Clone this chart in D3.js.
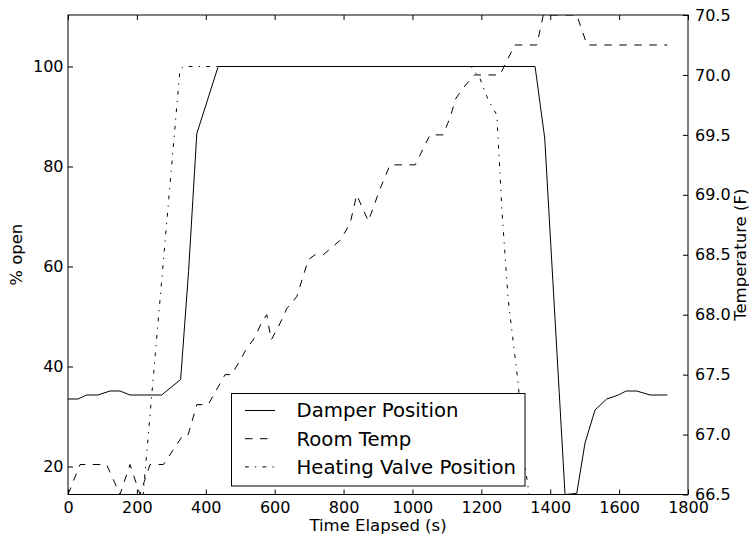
<!DOCTYPE html>
<html>
<head>
<meta charset="utf-8">
<script src="https://cdn.jsdelivr.net/npm/d3@7"></script>
<style>
  body { margin: 0; background: #fff; }
  svg { display: block; font-family: 'DejaVu Sans', sans-serif; }
</style>
</head>
<body>
<div id="chart"></div>
<script>
// values: [time (s), value]
const damperPos = [
  [0, 33.5], [29, 33.5], [54, 34.3], [87, 34.3], [122, 35.1], [151, 35.1],
  [180, 34.3], [272, 34.3], [327, 37.4], [350, 59], [374, 86.6], [436, 100],
  [1356, 100], [1384, 85.7], [1443, 14.4], [1477, 14.6], [1501, 24.7],
  [1530, 31.3], [1564, 33.5], [1598, 34.3], [1620, 35.1], [1651, 35.1],
  [1690, 34.3], [1740, 34.3]
];
const roomTemp = [
  [0, 66.5], [35, 66.75], [112, 66.75], [151, 66.5], [180, 66.75], [209, 66.5],
  [238, 66.75], [277, 66.75], [335, 67.0], [349, 67.0], [374, 67.25], [407, 67.25],
  [456, 67.5], [475, 67.5], [500, 67.62], [515, 67.7], [540, 67.8], [565, 67.95],
  [577, 68.0], [590, 67.79], [611, 67.9], [635, 68.05], [664, 68.15], [698, 68.46],
  [717, 68.5], [741, 68.5], [790, 68.62], [819, 68.76], [838, 69.0], [872, 68.78],
  [906, 69.05], [935, 69.25], [1008, 69.25], [1051, 69.5], [1089, 69.5],
  [1110, 69.65], [1125, 69.8], [1150, 69.9], [1180, 70.0], [1254, 70.0],
  [1297, 70.25], [1361, 70.25], [1380, 70.5], [1477, 70.5], [1507, 70.25],
  [1740, 70.25]
];
const valvePos = [
  [0, 0], [200, 0], [325, 99.3], [335, 100], [1170, 100], [1196, 97.6],
  [1220, 93.3], [1245, 90.3], [1260, 71], [1278, 53.3], [1307, 36.6],
  [1327, 20], [1337, 15.3], [1360, 0], [1740, 0]
];

const timeTicks = [0, 200, 400, 600, 800, 1000, 1200, 1400, 1600, 1800];
const pctTicks = [20, 40, 60, 80, 100];
const tempTicks = [66.5, 67.0, 67.5, 68.0, 68.5, 69.0, 69.5, 70.0, 70.5];

const seriesNames = ['Damper Position', 'Room Temp', 'Heating Valve Position'];

const W = 749, H = 537;
const plotL = 68, plotR = 688, plotT = 15, plotB = 494.5;

const svg = d3.select('#chart').append('svg')
  .attr('width', W)
  .attr('height', H);

let x = d3.scaleLinear().domain([0, 1800]).range([plotL, plotR]);
let yPct = d3.scaleLinear().domain([14.4, 110.3]).range([plotB, plotT]);
let yTemp = d3.scaleLinear().domain([66.5, 70.5]).range([plotB, plotT]);

svg.append('clipPath').attr('id', 'plot')
  .append('rect')
  .attr('x', plotL).attr('y', plotT)
  .attr('width', plotR - plotL).attr('height', plotB - plotT);

const dashed = '7.5,7.5';
const dashDot = '3.75,6.25,1.25,6.25';

let lineFor = (yScale) => d3.line()
  .x(d => x(d[0]))
  .y(d => yScale(d[1]));

let plot = svg.append('g').attr('clip-path', 'url(#plot)');

plot.append('path')
  .attr('d', lineFor(yPct)(damperPos))
  .attr('fill', 'none').attr('stroke', '#000').attr('stroke-width', 1);

plot.append('path')
  .attr('d', lineFor(yPct)(valvePos))
  .attr('fill', 'none').attr('stroke', '#000').attr('stroke-width', 1)
  .attr('stroke-dasharray', dashDot);

plot.append('path')
  .attr('d', lineFor(yTemp)(roomTemp))
  .attr('fill', 'none').attr('stroke', '#000').attr('stroke-width', 1)
  .attr('stroke-dasharray', dashed);

// inward ticks on all four sides
const tick = 5;
svg.append('g')
  .attr('transform', `translate(0,${plotB})`)
  .call(d3.axisBottom(x).tickValues(timeTicks).tickSizeInner(-tick).tickSizeOuter(0)
    .tickPadding(7).tickFormat(d3.format('d')))
  .call(g => g.select('.domain').remove());
svg.append('g')
  .attr('transform', `translate(0,${plotT})`)
  .call(d3.axisTop(x).tickValues(timeTicks).tickSizeInner(-tick).tickSizeOuter(0).tickFormat(''))
  .call(g => g.select('.domain').remove());
svg.append('g')
  .attr('transform', `translate(${plotL},0)`)
  .call(d3.axisLeft(yPct).tickValues(pctTicks).tickSizeInner(-tick).tickSizeOuter(0)
    .tickPadding(4.5).tickFormat(d3.format('d')))
  .call(g => g.select('.domain').remove());
svg.append('g')
  .attr('transform', `translate(${plotR},0)`)
  .call(d3.axisRight(yTemp).tickValues(tempTicks).tickSizeInner(-tick).tickSizeOuter(0)
    .tickPadding(7).tickFormat(d3.format('.1f')))
  .call(g => g.select('.domain').remove());

svg.selectAll('.tick text')
  .attr('font-family', "'DejaVu Sans', sans-serif")
  .attr('font-size', 16)
  .attr('fill', '#000');
svg.selectAll('.tick line').attr('stroke', '#000');

svg.append('rect')
  .attr('x', plotL).attr('y', plotT)
  .attr('width', plotR - plotL).attr('height', plotB - plotT)
  .attr('fill', 'none').attr('stroke', '#000').attr('stroke-width', 1);

// axis labels
svg.append('text')
  .attr('x', (plotL + plotR) / 2).attr('y', 531)
  .attr('text-anchor', 'middle').attr('font-size', 16.5)
  .text('Time Elapsed (s)');
svg.append('text')
  .attr('transform', `translate(22,${(plotT + plotB) / 2}) rotate(-90)`)
  .attr('text-anchor', 'middle').attr('font-size', 16.5)
  .text('% open');
svg.append('text')
  .attr('transform', `translate(746,${(plotT + plotB) / 2}) rotate(-90)`)
  .attr('text-anchor', 'middle').attr('font-size', 16.5)
  .text('Temperature (F)');

// legend
let legend = svg.append('g');
legend.append('rect')
  .attr('x', 231.5).attr('y', 393.5)
  .attr('width', 293.5).attr('height', 92.5)
  .attr('fill', '#fff').attr('stroke', '#000').attr('stroke-width', 1);

const dashes = [null, dashed, dashDot];
let row = legend.selectAll('.row')
  .data(seriesNames)
  .enter()
  .append('g')
  .attr('class', 'row')
  .attr('transform', (d, i) => `translate(0,${410.5 + i * 28.2})`);

row.append('line')
  .attr('x1', 245).attr('x2', 275)
  .attr('stroke', '#000').attr('stroke-width', 1)
  .attr('stroke-dasharray', (d, i) => dashes[i]);

row.append('text')
  .attr('x', 296.5).attr('y', 6.8)
  .attr('font-size', 19.7)
  .text(d => d);
</script>
</body>
</html>
